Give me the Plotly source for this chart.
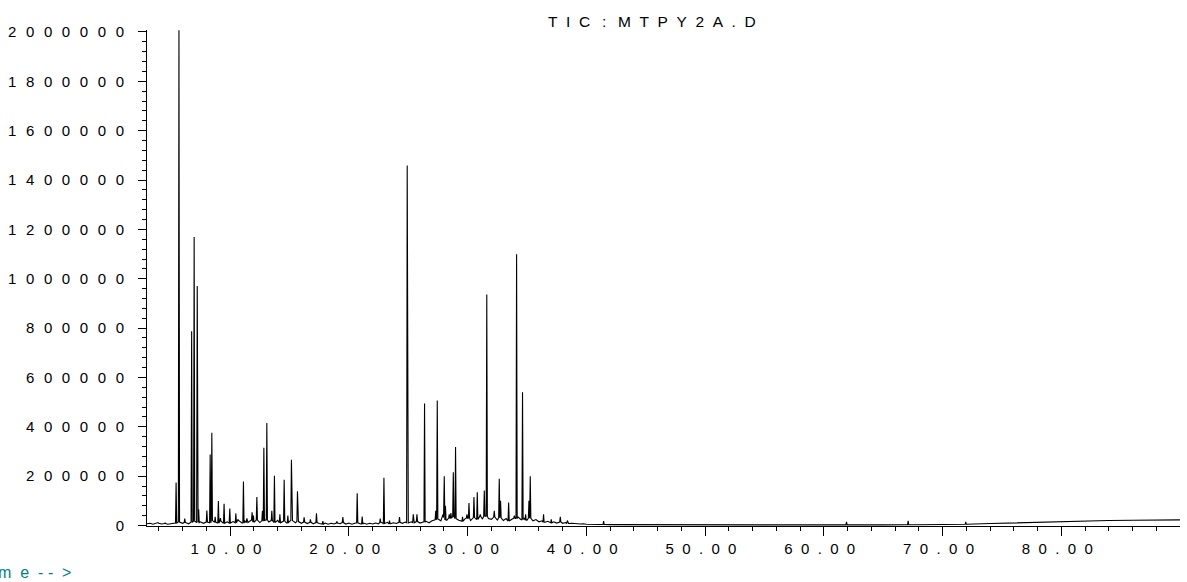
import plotly.graph_objects as go

# Peak apexes: retention time (min) and abundance
peak_rt = [3.93, 4.52, 5.45, 5.69, 6.18, 6.76, 6.97, 7.23, 7.35, 8.04,
           8.32, 8.46, 8.74, 9.01, 9.18, 9.49, 9.97, 10.48, 10.67, 11.12,
           11.41, 11.85, 11.96, 12.25, 12.72, 12.84, 13.09, 13.51, 13.73, 14.19,
           14.55, 14.86, 15.16, 15.67, 16.23, 16.76, 17.27, 17.81, 18.99, 19.49,
           20.70, 21.12, 22.64, 22.95, 23.42, 24.26, 24.91, 25.42, 25.73, 26.37,
           27.31, 27.44, 27.92, 28.03, 28.13, 28.45, 28.59, 28.79, 28.98, 29.57,
           29.94, 30.11, 30.53, 30.81, 31.06, 31.40, 31.61, 32.24, 32.66, 32.77,
           33.45, 33.93, 34.12, 34.62, 34.88, 35.16, 35.27, 36.39, 37.04, 37.80,
           38.39, 41.45, 61.90, 67.09, 71.94]
peak_height = [12000, 10000, 174000, 2007000, 28000, 787000, 1169000, 971000, 66000, 61000,
               288000, 376000, 35000, 99000, 30000, 88000, 69000, 49000, 25000, 178000,
               29000, 54000, 40000, 115000, 60000, 315000, 415000, 60000, 202000, 45000,
               185000, 40000, 266000, 139000, 33000, 25000, 50000, 18000, 17000, 34000,
               131000, 36000, 28000, 193000, 20000, 34000, 1459000, 45000, 45000, 494000,
               60000, 507000, 45000, 200000, 80000, 45000, 50000, 216000, 318000, 35000,
               45000, 91000, 115000, 135000, 45000, 142000, 936000, 60000, 189000, 100000,
               93000, 40000, 1099000, 540000, 45000, 100000, 200000, 45000, 25000, 35000,
               20000, 18000, 15000, 19000, 15000]

# Baseline (noise floor) samples between the peaks
base_rt = [3.00, 3.25, 3.50, 3.75, 4.00, 4.25, 4.50, 4.75, 5.00, 5.25,
           5.50, 5.75, 6.00, 6.25, 6.50, 6.75, 7.00, 7.25, 7.50, 7.75,
           8.00, 8.25, 8.50, 8.75, 9.00, 9.25, 9.50, 9.75, 10.00, 10.25,
           10.50, 10.75, 11.00, 11.25, 11.50, 11.75, 12.00, 12.25, 12.50, 12.75,
           13.00, 13.25, 13.50, 13.75, 14.00, 14.25, 14.50, 14.75, 15.00, 15.25,
           15.50, 15.75, 16.00, 16.25, 16.50, 16.75, 17.00, 17.25, 17.50, 17.75,
           18.00, 18.25, 18.50, 18.75, 19.00, 19.25, 19.50, 19.75, 20.00, 20.25,
           20.50, 20.75, 21.00, 21.25, 21.50, 21.75, 22.00, 22.25, 22.50, 22.75,
           23.00, 23.25, 23.50, 23.75, 24.00, 24.25, 24.50, 24.75, 25.00, 25.25,
           25.50, 25.75, 26.00, 26.25, 26.50, 26.75, 27.00, 27.25, 27.50, 27.75,
           28.00, 28.25, 28.50, 28.75, 29.00, 29.25, 29.50, 29.75, 30.00, 30.25,
           30.50, 30.75, 31.00, 31.25, 31.50, 31.75, 32.00, 32.25, 32.50, 32.75,
           33.00, 33.25, 33.50, 33.75, 34.00, 34.25, 34.50, 34.75, 35.00, 35.25,
           35.50, 35.75, 36.00, 36.25, 36.50, 36.75, 37.00, 37.25, 37.50, 37.75,
           38.00, 38.25, 38.50, 38.75, 39.00, 39.25, 39.50, 39.75, 40.00,
           41.0, 42.0, 44.0, 46.0, 50.0, 55.0, 60.0, 65.0, 68.0, 70.0,
           72.0, 74.0, 76.0, 78.0, 80.0, 82.0, 84.0, 86.0, 88.0, 89.98]
base_level = [7000, 9000, 5000, 8000, 9000, 6000, 8000, 5000, 7000, 8000,
              10000, 14000, 9000, 12000, 7000, 13000, 17000, 12000, 15000, 9000,
              14000, 11000, 20000, 13000, 10000, 17000, 9000, 15000, 10000, 16000,
              11000, 19000, 10000, 18000, 12000, 21000, 13000, 22000, 12000, 19000,
              23000, 14000, 20000, 12000, 21000, 11000, 18000, 10000, 17000, 20000,
              11000, 16000, 9000, 14000, 8000, 13000, 7000, 12000, 8000, 6000,
              10000, 5000, 9000, 6000, 10000, 7000, 12000, 6000, 10000, 5000,
              9000, 11000, 6000, 10000, 5000, 9000, 6000, 10000, 7000, 12000,
              8000, 13000, 7000, 11000, 8000, 13000, 9000, 14000, 10000, 15000,
              11000, 16000, 10000, 14000, 17000, 11000, 19000, 23000, 27000, 19000,
              32000, 22000, 30000, 36000, 28000, 21000, 17000, 26000, 30000, 20000,
              32000, 24000, 36000, 26000, 38000, 28000, 25000, 34000, 22000, 31000,
              20000, 28000, 18000, 26000, 29000, 34000, 24000, 31000, 22000, 29000,
              19000, 24000, 15000, 19000, 13000, 17000, 11000, 15000, 10000, 14000,
              9000, 12000, 8000, 9000, 7000, 8000, 6000, 7000, 5000,
              4000, 3500, 3000, 3000, 2500, 2500, 2500, 2500, 3000, 3500,
              5000, 8000, 11000, 14000, 17000, 19000, 20000, 21000, 22000, 23000]

x_tick_vals = [10, 20, 30, 40, 50, 60, 70, 80]
y_tick_vals = [0, 200000, 400000, 600000, 800000, 1000000,
               1200000, 1400000, 1600000, 1800000, 2000000]

NB = "\u00a0"
GAP = NB * 2
GAP_Y = NB * 2 + "\u200a"
THIN = "\u2009"


def spaced(text, gap=GAP):
    return gap.join(text)


# Spaced-out header and axis caption
title_text = GAP.join(["T", "I", "C" + GAP + THIN + ":" + GAP + THIN + "M",
                       "T", "P", "Y", "2", "A", ".", "D"])
time_text = GAP.join(["T", "i", "m", "e", "-" + NB + "-", ">"])

# Assemble the trace: baseline samples plus a narrow spike for each peak
HALF = 0.05
points = []
for t, y in zip(base_rt, base_level):
    if all(abs(t - p) > HALF + 0.02 for p in peak_rt):
        points.append((t, y))


def nearest_base(t):
    k = min(range(len(base_rt)), key=lambda i: abs(base_rt[i] - t))
    return base_level[k]


for t, h in zip(peak_rt, peak_height):
    foot = nearest_base(t)
    points += [(t - HALF, foot), (t, h), (t + HALF, foot)]
points.sort()
xs = [p[0] for p in points]
ys = [p[1] for p in points]

FONT = "Liberation Sans, Arial, sans-serif"

fig = go.Figure(go.Scatter(x=xs, y=ys, mode="lines",
                           line=dict(color="black", width=1.1),
                           hoverinfo="skip", showlegend=False))

fig.update_layout(
    width=1187, height=582,
    margin=dict(l=147, r=7, t=30, b=56),
    paper_bgcolor="white", plot_bgcolor="white",
    font=dict(family=FONT, size=15, color="black"),
    xaxis=dict(
        range=[3.0, 89.98], showline=True, linecolor="black", linewidth=1,
        showgrid=False, zeroline=False,
        ticks="outside", ticklen=9, tickcolor="black", tickwidth=1,
        tickmode="array", tickvals=x_tick_vals,
        ticktext=[spaced(f"{v:.2f}") + GAP for v in x_tick_vals],
        tickfont=dict(family=FONT, size=15, color="black"),
        minor=dict(tickmode="linear", tick0=0, dtick=2, ticks="outside",
                   ticklen=4, tickcolor="black", showgrid=False),
    ),
    yaxis=dict(
        range=[-2000, 2008000], showline=True, linecolor="black", linewidth=1,
        showgrid=False, zeroline=False,
        ticks="outside", ticklen=8, tickcolor="black", tickwidth=1,
        tickmode="array", tickvals=y_tick_vals,
        ticktext=[spaced(str(v), GAP_Y) for v in y_tick_vals],
        tickfont=dict(family=FONT, size=15, color="black"),
        ticklabelstandoff=11,
        minor=dict(tickmode="linear", tick0=0, dtick=40000, ticks="outside",
                   ticklen=4, tickcolor="black", showgrid=False),
    ),
    annotations=[
        dict(text=title_text,
             xref="paper", yref="paper", x=(546 - 147) / 1033, y=1 + 9 / 496,
             xanchor="left", yanchor="middle", showarrow=False,
             font=dict(family=FONT, size=15.5, color="black")),
        dict(text=time_text,
             xref="paper", yref="paper", x=(-35 - 147) / 1033, y=-(572 - 526) / 496,
             xanchor="left", yanchor="middle", showarrow=False,
             font=dict(family=FONT, size=16, color="#008080")),
    ],
)

fig.write_html("out.html")
